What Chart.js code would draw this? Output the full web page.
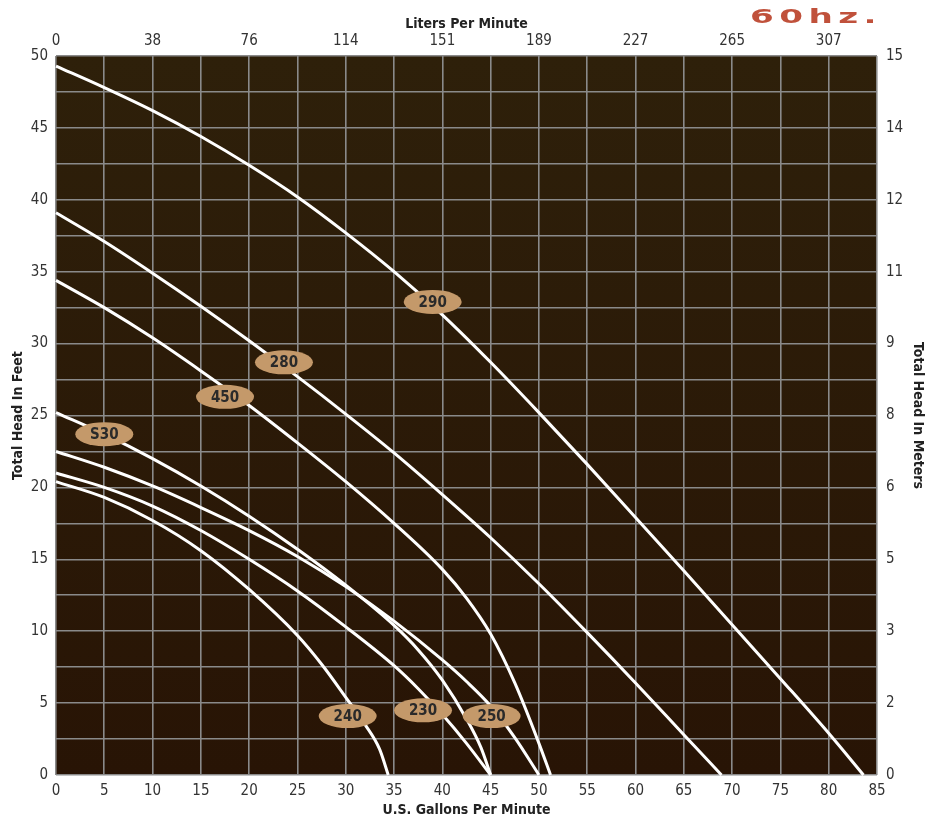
<!DOCTYPE html>
<html><head><meta charset="utf-8">
<script src="https://cdn.jsdelivr.net/npm/chart.js@4"></script>
<style>
html,body{margin:0;padding:0;background:#fff;}
#wrap{position:relative;width:925px;height:817px;}
#hz{position:absolute;left:750px;top:7px;font:bold 19px/19px 'DejaVu Sans',sans-serif;color:#c0513b;letter-spacing:3px;transform:scaleX(1.8);transform-origin:0 0;white-space:nowrap;}
</style></head><body>
<div id="wrap"><canvas id="c" width="925" height="817"></canvas><div id="hz">60hz.</div></div>
<script>
// ---- data (U.S. gallons per minute vs total head in feet) ----
const flow290 = [0,5,10,15,20,25,30,35,40,45,50,55,60,65,70,75,80,83.6];
const head290 = [49.3,47.8,46.2,44.4,42.4,40.2,37.7,35.0,32.0,28.7,25.2,21.6,17.9,14.2,10.45,6.7,2.9,0];

const flow280 = [0,5,10,15,20,25,30,35,40,45,50,55,60,65,68.9];
const head280 = [39.1,37.1,34.9,32.6,30.2,27.7,25.1,22.4,19.5,16.5,13.3,9.9,6.4,2.8,0];

const flow450 = [0,5,10,15,20,25,30,35,40,42.5,45,47.5,50,51.2];
const head450 = [34.4,32.5,30.4,28.1,25.7,23.1,20.4,17.5,14.3,12.3,9.8,6.4,2.2,0];

const flowS30 = [0,5,10,15,20,25,30,35,37.5,40,42.5,44,45];
const headS30 = [25.2,23.7,22.0,20.1,18.0,15.7,13.2,10.4,8.7,6.6,3.9,1.9,0];

const flow250 = [0,5,10,15,20,25,30,35,40,42.5,45,47.5,50];
const head250 = [22.5,21.4,20.1,18.6,17.0,15.2,13.1,10.7,8.0,6.5,4.8,2.6,0];

const flow230 = [0,5,10,15,20,25,30,35,37.5,40,42.5,45];
const head230 = [21.0,20.0,18.7,17.0,15.0,12.8,10.3,7.6,6.0,4.2,2.2,0];

const flow240 = [0,5,10,15,20,25,27.5,30,32,33.5,34.4];
const head240 = [20.4,19.3,17.7,15.6,12.9,9.7,7.7,5.4,3.5,1.8,0];

// curve tags
const tagNames = ['290','280','450','S30','240','230','250'];
const tagFlow  = [39.0,23.6,17.5,5.0,30.2,38.0,45.1];
const tagHead  = [32.9,28.7,26.3,23.7,4.1,4.5,4.1];

// secondary tick labels
const literTickGpm = [0,10,20,30,40,50,60,70,80];
const literLabels  = ['0','38','76','114','151','189','227','265','307'];
const meterTickFt  = [0,5,10,15,20,25,30,35,40,45,50];
const meterLabels  = ['0','2','3','5','6','8','9','11','12','14','15'];

const FAM = "'Liberation Sans Narrow','DejaVu Sans Condensed',sans-serif";
Chart.defaults.font.family = FAM;

function pts(xs, ys){ return xs.map((v,i)=>({x:v, y:ys[i]})); }
function ds(xs, ys){
  return {data: pts(xs, ys), borderColor:'#ffffff', borderWidth:3, pointRadius:0,
          cubicInterpolationMode:'monotone', fill:false, clip:false};
}

const bgPlugin = {
  id:'bg',
  beforeDraw(chart){
    const {ctx, chartArea:a} = chart;
    ctx.save();
    ctx.fillStyle = '#ffffff';
    ctx.fillRect(0,0,chart.width,chart.height);
    const g = ctx.createLinearGradient(0,a.top,0,a.bottom);
    g.addColorStop(0,'#2e200a');
    g.addColorStop(1,'#281405');
    ctx.fillStyle = g;
    ctx.fillRect(a.left,a.top,a.right-a.left,a.bottom-a.top);
    ctx.restore();
  }
};

const tagPlugin = {
  id:'tags',
  afterDatasetsDraw(chart){
    const {ctx} = chart;
    const xs = chart.scales.x, ys = chart.scales.y;
    ctx.save();
    tagNames.forEach((t,i)=>{
      const px = xs.getPixelForValue(tagFlow[i]);
      const py = ys.getPixelForValue(tagHead[i]);
      ctx.beginPath();
      ctx.ellipse(px,py,29,12,0,0,Math.PI*2);
      ctx.fillStyle = '#c4996a';
      ctx.fill();
      ctx.fillStyle = '#2a2a2a';
      ctx.font = 'bold 15px ' + FAM;
      ctx.textAlign = 'center';
      ctx.textBaseline = 'middle';
      ctx.fillText(t, px, py+1);
    });
    ctx.restore();
  }
};

const tickFont = {size:15, family:FAM};
const titleFont = {size:14, weight:'bold', family:FAM, lineHeight:1};

new Chart(document.getElementById('c'), {
  type:'line',
  data:{datasets:[
    ds(flow290,head290), ds(flow280,head280), ds(flow450,head450),
    ds(flowS30,headS30), ds(flow250,head250), ds(flow230,head230), ds(flow240,head240)
  ]},
  options:{
    responsive:false, animation:false,
    layout:{padding:0},
    plugins:{legend:{display:false}, tooltip:{enabled:false}},
    scales:{
      x:{type:'linear', position:'bottom', min:0, max:85,
         ticks:{stepSize:5, autoSkip:false, maxRotation:0, color:'#333', font:tickFont, padding:7},
         grid:{color:'#8a8a8a', lineWidth:1.6, drawTicks:false},
         border:{display:false},
         title:{display:true, text:'U.S. Gallons Per Minute', color:'#222', font:titleFont, padding:{top:2,bottom:0}},
         afterFit(s){ s.height = 42; }
      },
      x2:{type:'linear', position:'top', min:0, max:85,
         afterBuildTicks(s){ s.ticks = literTickGpm.map(v=>({value:v})); },
         ticks:{autoSkip:false, maxRotation:0, color:'#333', font:tickFont, padding:6,
                callback:(v,i)=>literLabels[i]},
         grid:{display:false, drawTicks:false},
         border:{display:false},
         title:{display:true, text:'Liters Per Minute', color:'#222', font:titleFont, padding:{top:17,bottom:0}},
         afterFit(s){ s.height = 56; }
      },
      y:{type:'linear', position:'left', min:0, max:50,
         ticks:{stepSize:2.5, autoSkip:false, color:'#333', font:tickFont, padding:8,
                callback:v=>(v%5===0 ? String(v) : '')},
         grid:{color:'#8a8a8a', lineWidth:1.6, drawTicks:false},
         border:{display:false},
         title:{display:true, text:'Total Head In Feet', color:'#222', font:titleFont, padding:{top:11,bottom:0}},
         afterFit(s){ s.width = 56; }
      },
      y2:{type:'linear', position:'right', min:0, max:50,
         afterBuildTicks(s){ s.ticks = meterTickFt.map(v=>({value:v})); },
         ticks:{autoSkip:false, color:'#333', font:tickFont, padding:9,
                callback:(v,i)=>meterLabels[i]},
         grid:{display:false, drawTicks:false},
         border:{display:false},
         title:{display:true, text:'Total Head In Meters', color:'#222', font:titleFont, padding:{top:0,bottom:0}},
         afterFit(s){ s.width = 48; }
      }
    }
  },
  plugins:[bgPlugin, tagPlugin]
});
</script>
</body></html>
